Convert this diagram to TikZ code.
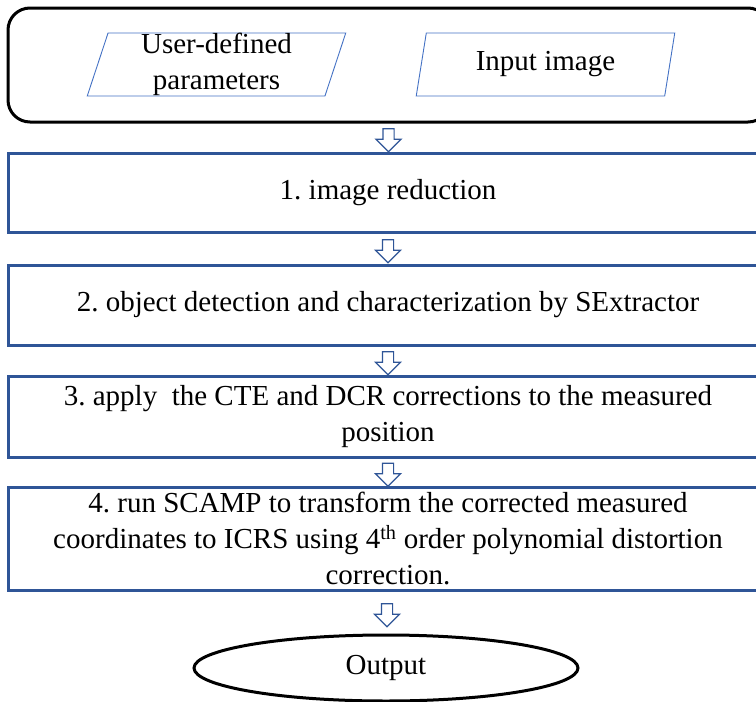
\documentclass[tikz,border=0pt]{standalone}
\usepackage{fontspec}
\setmainfont{Liberation Serif}
\usepackage{tikz}
\usetikzlibrary{shapes.geometric,shapes.arrows,calc}
\definecolor{boxblue}{HTML}{2F5597}
\definecolor{paraline}{HTML}{4472C4}
\frenchspacing

\begin{document}
\begin{tikzpicture}[x=1pt,y=-1pt]
        \useasboundingbox (0,0) rectangle (756,702);
        \begin{scope}[
            every node/.style={font=\fontsize{29}{36}\selectfont,align=center,inner sep=0pt},
            stepbox/.style={draw=boxblue,line width=3pt,minimum width=760pt},
            inputbox/.style={trapezium,trapezium left angle=77,trapezium right angle=103,
                trapezium stretches=true,draw=paraline,line width=0.9pt,
                minimum width=259pt,minimum height=63pt},
            flowarrow/.style={single arrow,draw=boxblue,line width=1.2pt,fill=white,
                shape border rotate=270,minimum height=23pt,inner sep=5pt,
                single arrow head extend=7pt}
            ]
            \node [draw,line width=3pt,rounded corners=22pt,minimum width=762pt,
                minimum height=114pt] (inbox) at (389, 65) {};
            \node [inputbox] (params) at (216.5, 64.5) {User-defined\\parameters};
            \node [inputbox] (image) at (545.5, 64.5) {Input image};
            \node [stepbox,minimum height=79pt] (s1) at (388, 192.5) {1. image reduction};
            \node [stepbox,minimum height=80pt] (s2) at (388, 305)
                {2. object detection and characterization by SExtractor};
            \node [stepbox,minimum height=81pt] (s3) at (388, 416.5)
                {3. apply\ \ the CTE and DCR corrections to the measured\\position};
            \node [stepbox,minimum height=103pt] (s4) at (388, 538.5)
                {4. run SCAMP to transform the corrected measured\\coordinates to ICRS using 4\textsuperscript{th} order polynomial distortion\\correction.};
            \node [ellipse,draw,line width=3pt,minimum width=384pt,minimum height=66pt]
                (out) at (386, 668) {Output};
            \node [flowarrow] (a1) at ($(inbox.south)!0.5!(s1.north)$) {};
            \node [flowarrow] (a2) at ($(s1.south)!0.5!(s2.north)$) {};
            \node [flowarrow] (a3) at ($(s2.south)!0.5!(s3.north)$) {};
            \node [flowarrow] (a4) at ($(s3.south)!0.5!(s4.north)$) {};
            \node [flowarrow] (a5) at ($(s4.south)!0.5!(out.north)$) {};
        \end{scope}
    \end{tikzpicture}
\end{document}
